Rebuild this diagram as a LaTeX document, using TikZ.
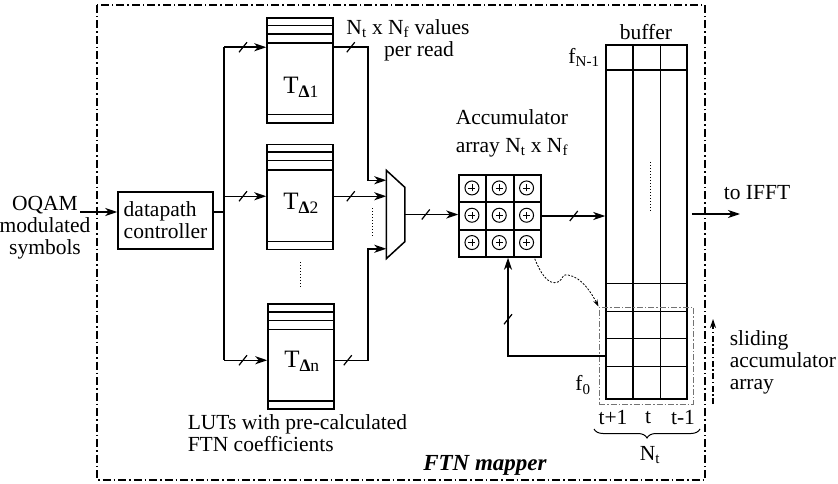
\documentclass[tikz,border=0pt]{standalone}
\usepackage{fontspec}
\setmainfont{Liberation Serif}
\usetikzlibrary{arrows.meta,calc,decorations.markings,decorations.pathreplacing,positioning}
\tikzset{
  every picture/.style={x=1pt, y=-1pt, line width=1.5pt,
    >={Stealth[length=12pt,width=8pt,inset=3.5pt]}},
  every node/.style={font=\fontsize{21.5}{22}\selectfont, inner sep=1pt},
  % Bloecke
  box/.style={draw, rectangle, inner sep=0pt},
  lut/.style={box, minimum width=66pt, minimum height=105pt},
  lutname/.style={font=\fontsize{25}{26}\selectfont},
  adder/.style={circle, draw, line width=1pt, inner sep=0pt, minimum size=14pt,
    path picture={\draw[line width=0.7pt] ($(path picture bounding box.center)+(-3.5pt,0)$) -- +(7pt,0)
      ($(path picture bounding box.center)+(0,-3.5pt)$) -- +(0,7pt);}},
  % Busbreite: Schraegstrich auf der Leitung
  bus/.style={postaction={decorate}, decoration={markings, mark=at position #1 with
    {\draw[-, solid, line width=1.2pt] (-4pt,-5pt) -- (4pt,5pt);}}},
  busv/.style={postaction={decorate}, decoration={markings, mark=at position #1 with
    {\draw[-, solid, line width=1.2pt] (-5pt,4pt) -- (5pt,-4pt);}}},
  % Linientypen
  frame/.style={line width=1.3pt, dash pattern=on 8pt off 3pt on 1.5pt off 3pt},
  slide/.style={draw=black!55, line width=1pt, dash pattern=on 6pt off 2pt on 1.5pt off 2pt, inner sep=0pt},
  slidearrow/.style={line width=1.1pt, dash pattern=on 6pt off 2.5pt on 1.5pt off 2.5pt,
    -{Stealth[length=9pt,width=6pt]}},
  curvy/.style={line width=0.8pt, dash pattern=on 2pt off 1.5pt, -{Stealth[length=7pt,width=4.5pt]}},
  dots/.style={dotted, line width=1pt},
}
\begin{document}
\begin{tikzpicture}
  \useasboundingbox (0,0) rectangle (838,484);
  % Rahmen FTN mapper
  \draw[frame] (97,5) rectangle (705,480);
  \node[font=\fontsize{23}{24}\selectfont] (title) at (485,465) {\textbf{\textit{FTN mapper}}};

  % Eingang und Steuerung
  \node[align=center] (src) at (45,228) {OQAM\\modulated\\symbols};
  \node[box, minimum width=95pt, minimum height=57pt, align=left] (dpc) at (165.5,220.5) {datapath\\controller};
  \coordinate (srcout) at (80,212);
  \coordinate (split) at (224,212);
  \draw[->] (srcout) -- (srcout -| dpc.west);
  \draw (dpc.east |- split) -- (split);

  % LUTs
  \node[lut] (lut1) at (300,70.5) {};
  \node[lut] (lut2) at (300,197) {};
  \node[lut] (lutn) at (301,356.5) {};
  \foreach \n in {1,2,n} {
    \foreach \d in {8.5,17,26}
      \draw ($(lut\n.north west)+(0,\d)$) -- ($(lut\n.north east)+(0,\d)$);
    \draw ($(lut\n.south west)+(0,-9)$) -- ($(lut\n.south east)+(0,-9)$);
  }
  \node[lutname] (t1) at (301,87) {T\textsubscript{\textbf{Δ}1}};
  \node[lutname] (t2) at (301,203) {T\textsubscript{\textbf{Δ}2}};
  \node[lutname] (tn) at (302,361) {T\textsubscript{\textbf{Δ}n}};
  \draw[dots] (300,262) -- (300,288);
  \node[anchor=west, align=left] (lutlbl) at (186,433) {LUTs with pre-calculated\\FTN coefficients};

  \coordinate (in1) at ($(lut1.north west)+(0,30)$);
  \coordinate (in2) at ($(lut2.north west)+(0,52.5)$);
  \coordinate (inn) at ($(lutn.north west)+(0,57)$);
  \draw (split |- in1) -- (split |- inn);
  \foreach \n in {1,2,n}
    \draw[->, bus=19pt] (split |- in\n) -- (in\n);

  % Multiplexer
  \node[minimum width=17pt, minimum height=87pt, inner sep=0pt] (mux) at (395.5,214.5) {};
  \draw (mux.north west) -- ($(mux.north east)+(0,17)$) -- ($(mux.south east)+(0,-17)$) -- (mux.south west) -- cycle;
  \coordinate (m1) at ($(mux.north west)+(0,10)$);
  \coordinate (m2) at ($(mux.north west)+(0,26)$);
  \coordinate (mn) at ($(mux.south west)+(0,-10)$);
  \draw[->, bus=17pt] (lut1.east |- in1) -- ++(34,0) |- (m1);
  \draw[->, bus=17pt] (lut2.east |- in2) -- (m2);
  \draw[->, bus=13pt] (lutn.east |- inn) -- ++(33,0) |- (mn);
  \draw[dots] (372,208) -- (372,236);
  \node[align=center] (rd) at (408,40) {N\textsubscript{t} x N\textsubscript{f} values\\\hspace*{22pt}per read};

  % Akkumulator
  \node[box, minimum size=82pt] (acc) at (500,216) {};
  \foreach \k in {1,2} {
    \draw ($(acc.north west)!\k/3!(acc.north east)$) -- ($(acc.south west)!\k/3!(acc.south east)$);
    \draw ($(acc.north west)!\k/3!(acc.south west)$) -- ($(acc.north east)!\k/3!(acc.south east)$);
  }
  \foreach \i in {0,1,2}
    \foreach \j in {0,1,2}
      \node[adder] (add\i\j) at ($(acc.north west)+(13.7+27.3*\i,13.7+27.3*\j)$) {};
  \node[anchor=west, align=left] (acclbl) at (454,133) {Accumulator\\[6pt]array N\textsubscript{t} x N\textsubscript{f}};
  \draw[->, bus=21pt] (mux.east) -- (mux.east -| acc.west);

  % Puffer
  \node[box, minimum width=81pt, minimum height=354pt] (buf) at (646.5,222) {};
  \foreach \k in {1,2}
    \draw ($(buf.north west)!\k/3!(buf.north east)$) -- ($(buf.south west)!\k/3!(buf.south east)$);
  \foreach \d in {26,239,267,294,322}
    \draw ($(buf.north west)+(0,\d)$) -- ($(buf.north east)+(0,\d)$);
  \draw[dots] (650,162) -- (650,212);
  \node (buflbl) at (646,32) {buffer};
  \node (ftop) at (584,57) {f\textsubscript{N-1}};
  \node (fbot) at (583,385) {f\textsubscript{0}};
  \draw[->, bus=32pt] (acc.east) -- (acc.east -| buf.west);

  % gleitendes Akkumulatorfeld
  \node[slide, minimum width=94pt, minimum height=97pt] (win) at (646,355.5) {};
  \coordinate (fb) at (508,356);
  \draw[->, busv=134pt] (buf.west |- fb) -- (fb) -- (fb |- acc.south);
  \draw[curvy] ($(acc.south east)+(-7,1)$) .. controls (540,272) and (548,286) .. (558,282)
    .. controls (564,279) and (561,274) .. (568,275) .. controls (582,277) and (592,294) .. (win.north west);
  \coordinate (sl0) at (713,404);
  \coordinate (sl1) at (713,319);
  \draw[slidearrow] (sl0) -- (sl1);
  \node[anchor=west, align=left] (sllbl) at (728,362) {sliding\\accumulator\\array};

  % Ausgang
  \coordinate (ifftend) at (740,214);
  \draw[->] ($(buf.east |- ifftend)+(4,0)$) -- (ifftend);
  \node (ifft) at (757,193) {to IFFT};

  % Zeitindizes
  \node (tp) at (613,418) {t+1};
  \node (tc) at (648,418) {t};
  \node (tm) at (683,418) {t-1};
  \coordinate (br0) at (594,429);
  \coordinate (br1) at (700,429);
  \draw[decorate, decoration={brace, mirror, amplitude=9pt}, line width=1pt] (br0) -- (br1);
  \node (nt) at (650,455) {N\textsubscript{t}};
\end{tikzpicture}
\end{document}
